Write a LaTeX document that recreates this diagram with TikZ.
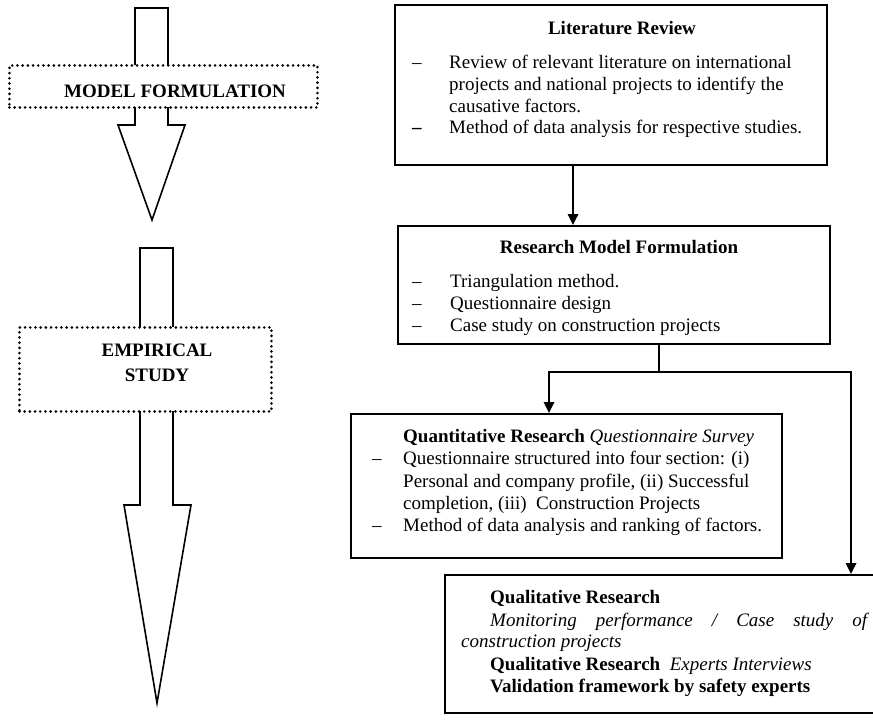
\documentclass[tikz,border=0pt]{standalone}
\usepackage{fontspec}
\setmainfont{Liberation Serif}
\usetikzlibrary{arrows.meta}
\begin{document}
\begin{tikzpicture}[x=1pt,y=-1pt,
  box/.style={draw, line width=1.8pt, inner sep=0pt, anchor=north west},
  dotbox/.style={draw, fill=white, line width=2.9pt, line cap=round, dash pattern=on 0pt off 5.2pt, inner sep=0pt, anchor=north west},
  bigarrow/.style={draw, line width=1.6pt, fill=white, line join=miter},
  link/.style={line width=1.8pt},
  conn/.style={line width=1.8pt, -{Triangle[width=10.5pt,length=11pt]}},
  txt/.style={anchor=base west, inner sep=0pt, font=\fontsize{19}{22}\selectfont},
  ttl/.style={anchor=base, inner sep=0pt, font=\fontsize{19}{22}\selectfont\bfseries},
]
\useasboundingbox (0,0) rectangle (873,723);
\clip (0,0) rectangle (873,723);

% ---------- left side: big arrows ----------
\draw[bigarrow] (135,8) -- (168,8) -- (168,125) -- (185,125) -- (152,220) -- (118,125) -- (135,125) -- cycle;
\node[dotbox, minimum width=308pt, minimum height=42pt] (mf) at (8,64) {};
\node[ttl] (mftext) at (175,97) {MODEL FORMULATION};

\draw[bigarrow] (140,248) -- (173,248) -- (173,505) -- (191,505) -- (157,703) -- (124,505) -- (140,505) -- cycle;
\node[dotbox, minimum width=252pt, minimum height=84pt] (es) at (18,326) {};
\node[ttl] (estext1) at (157,356) {EMPIRICAL};
\node[ttl] (estext2) at (157,381) {STUDY};

% ---------- right side: boxes ----------
\node[box, minimum width=432pt, minimum height=160pt] (lit) at (394,4) {};
\node[box, minimum width=432pt, minimum height=118pt] (research) at (397,225) {};
\node[box, minimum width=431pt, minimum height=144pt] (quant) at (350,413) {};
\node[box, minimum width=446pt, minimum height=138pt] (qual) at (444,574) {};

% Literature Review
\node[ttl] (littitle) at (622,34) {Literature Review};
\node[txt] (litd1) at (412,68) {–};
\node[txt] (litd2) at (412,133) {\bfseries –};
\node[txt] (lit1) at (449,68) {Review of relevant literature on international};
\node[txt] (lit2) at (449,90) {projects and national projects to identify the};
\node[txt] (lit3) at (449,112) {causative factors.};
\node[txt] (lit4) at (449,133) {Method of data analysis for respective studies.};

% Research Model Formulation
\node[ttl] (restitle) at (619,253) {Research Model Formulation};
\node[txt] (resd1) at (412,287) {–};
\node[txt] (resd2) at (412,309) {–};
\node[txt] (resd3) at (412,331) {–};
\node[txt] (res1) at (450,287) {Triangulation method.};
\node[txt] (res2) at (450,309) {Questionnaire design};
\node[txt] (res3) at (450,331) {Case study on construction projects};

% Quantitative Research
\node[txt] (quanttitle) at (403,442) {\textbf{Quantitative Research} \textit{Questionnaire Survey}};
\node[txt] (quantd1) at (372,464) {–};
\node[txt] (quantd2) at (372,531) {–};
\node[txt] (quant1) at (403,464) {Questionnaire structured into four section: (i)};
\node[txt] (quant2) at (403,487) {Personal and company profile, (ii) Successful};
\node[txt] (quant3) at (403,509) {completion, (iii)\ \ Construction Projects};
\node[txt] (quant4) at (403,531) {Method of data analysis and ranking of factors.};

% Qualitative Research
\node[txt] (qual1) at (490,603) {\bfseries Qualitative Research};
\node[txt] (qual2) at (490,626) {\itshape\makebox[377pt][s]{Monitoring performance / Case study of}};
\node[txt] (qual3) at (461,647) {\itshape construction projects};
\node[txt] (qual4) at (490,670) {\textbf{Qualitative Research}\ \ \textit{Experts Interviews}};
\node[txt] (qual5) at (490,692) {\bfseries Validation framework by safety experts};

% ---------- connectors ----------
\draw[conn] ([xshift=179pt]lit.south west) -- ([xshift=176pt]research.north west);
\coordinate (split) at (659,372);
\draw[link] ([xshift=262pt]research.south west) -- (split);
\draw[conn] (split) -| ([xshift=199pt]quant.north west);
\draw[conn] (split) -| ([xshift=407pt]qual.north west);
\end{tikzpicture}
\end{document}
